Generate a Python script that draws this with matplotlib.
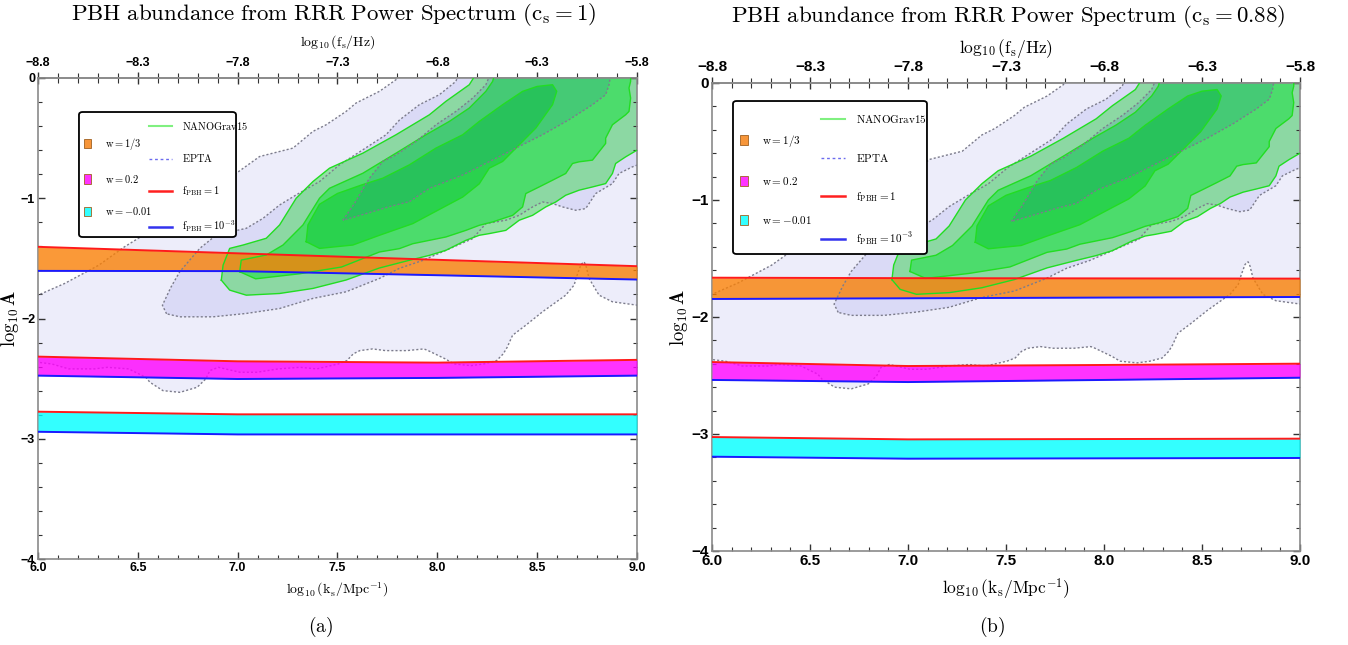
import numpy as np
import matplotlib
matplotlib.use('Agg')
import matplotlib.pyplot as plt
from matplotlib.patches import Patch, FancyBboxPatch
from matplotlib.lines import Line2D
from matplotlib.ticker import MultipleLocator

plt.rcParams['mathtext.fontset'] = 'cm'

# GW posteriors in (log10 k_s, log10 A); identical in both panels.
# points just outside the frame (x=9.05, y=0.05) close regions that leave the plot
# EPTA: outer, middle and inner credible regions
epta_1 = np.array([
    (5.95, -1.806), (6.0, -1.806), (6.133, -1.709), (6.304, -1.557), (6.433, -1.404),
    (6.519, -1.316), (6.6, -1.2), (6.8, -1.0), (6.993, -0.792), (7.11, -0.653),
    (7.277, -0.583), (7.377, -0.444), (7.443, -0.389), (7.543, -0.278), (7.593, -0.208),
    (7.71, -0.111), (7.793, -0.014), (7.81, 0.05), (9.05, 0.05), (9.05, -1.889),
    (9.0, -1.889), (8.877, -1.861), (8.81, -1.806), (8.76, -1.667), (8.745, -1.565),
    (8.735, -1.528), (8.72, -1.55), (8.70, -1.64), (8.685, -1.722), (8.643, -1.806),
    (8.527, -1.944), (8.443, -2.056), (8.377, -2.139), (8.35, -2.239), (8.33, -2.294),
    (8.297, -2.35), (8.233, -2.378), (8.169, -2.392), (8.083, -2.378), (8.04, -2.336),
    (7.954, -2.267), (7.933, -2.253), (7.847, -2.267), (7.74, -2.267), (7.676, -2.253),
    (7.612, -2.267), (7.579, -2.294), (7.547, -2.35), (7.504, -2.378), (7.397, -2.419),
    (7.311, -2.406), (7.204, -2.419), (7.097, -2.447), (7.011, -2.447), (6.904, -2.406),
    (6.861, -2.433), (6.84, -2.503), (6.797, -2.572), (6.711, -2.614), (6.626, -2.6),
    (6.561, -2.531), (6.54, -2.489), (6.454, -2.419), (6.347, -2.406), (6.283, -2.419),
    (6.154, -2.419), (6.069, -2.378), (6.0, -2.364), (5.95, -2.364)])
epta_2 = np.array([
    (6.644, -1.961), (6.623, -1.89), (6.666, -1.739), (6.71, -1.611), (6.81, -1.417),
    (6.893, -1.306), (7.043, -1.25), (7.127, -1.167), (7.21, -1.056), (7.293, -0.972),
    (7.41, -0.861), (7.51, -0.722), (7.627, -0.597), (7.743, -0.472), (7.81, -0.35),
    (7.91, -0.222), (8.01, -0.139), (8.093, -0.028), (8.11, 0.05), (9.05, 0.05),
    (9.05, -0.725), (9.0, -0.725), (8.977, -0.739), (8.91, -0.794), (8.877, -0.878),
    (8.793, -0.961), (8.743, -1.086), (8.693, -1.1), (8.627, -1.072), (8.577, -1.044),
    (8.527, -1.031), (8.477, -1.072), (8.41, -1.142), (8.343, -1.183), (8.243, -1.211),
    (8.177, -1.336), (8.043, -1.433), (7.927, -1.517), (7.81, -1.583), (7.71, -1.667),
    (7.543, -1.778), (7.377, -1.833), (7.21, -1.917), (7.043, -1.958), (6.877, -1.986),
    (6.71, -1.986)])
epta_3 = np.array([
    (7.527, -1.183), (7.585, -1.044), (7.66, -0.833), (7.727, -0.694), (7.793, -0.639),
    (7.893, -0.528), (7.993, -0.389), (8.093, -0.278), (8.177, -0.167), (8.243, -0.056),
    (8.27, 0.05), (8.87, 0.05), (8.86, -0.056), (8.843, -0.139), (8.777, -0.222),
    (8.66, -0.347), (8.527, -0.472), (8.393, -0.583), (8.277, -0.681), (8.127, -0.806),
    (7.96, -0.917), (7.86, -1.028), (7.76, -1.069), (7.677, -1.111)])

# NANOGrav15: outer, middle and inner credible regions
nano_1 = np.array([
    (6.918, -1.681), (6.927, -1.556), (6.96, -1.417), (7.027, -1.389), (7.143, -1.333),
    (7.21, -1.222), (7.293, -1.0), (7.377, -0.861), (7.46, -0.75), (7.627, -0.625),
    (7.793, -0.472), (7.96, -0.306), (8.043, -0.194), (8.16, -0.056), (8.2, 0.05),
    (9.05, 0.05), (9.05, -0.6), (9.0, -0.6), (8.943, -0.656), (8.893, -0.711),
    (8.877, -0.794), (8.843, -0.878), (8.777, -0.906), (8.71, -0.933), (8.643, -0.975),
    (8.593, -1.031), (8.543, -1.072), (8.477, -1.142), (8.41, -1.183), (8.343, -1.267),
    (8.26, -1.294), (8.21, -1.308), (8.143, -1.35), (8.043, -1.433), (7.96, -1.475),
    (7.85, -1.52), (7.71, -1.58), (7.543, -1.68), (7.377, -1.75), (7.21, -1.792),
    (7.043, -1.806), (6.96, -1.764)])
nano_2 = np.array([
    (7.01, -1.611), (7.018, -1.514), (7.143, -1.472), (7.227, -1.389), (7.327, -1.222),
    (7.41, -1.0), (7.46, -0.917), (7.627, -0.792), (7.793, -0.625), (7.943, -0.472),
    (8.06, -0.361), (8.16, -0.25), (8.243, -0.111), (8.277, -0.028), (8.29, 0.05),
    (8.968, 0.05), (8.968, -0.028), (8.96, -0.083), (8.968, -0.167), (8.96, -0.278),
    (8.943, -0.306), (8.877, -0.389), (8.843, -0.5), (8.843, -0.544), (8.777, -0.683),
    (8.71, -0.697), (8.677, -0.711), (8.643, -0.794), (8.577, -0.85), (8.51, -0.906),
    (8.443, -0.961), (8.427, -1.072), (8.377, -1.142), (8.277, -1.197), (8.21, -1.225),
    (8.143, -1.267), (8.043, -1.322), (7.96, -1.35), (7.877, -1.378), (7.81, -1.419),
    (7.71, -1.447), (7.52, -1.572), (7.31, -1.628), (7.09, -1.67)])
nano_3 = np.array([
    (7.343, -1.361), (7.352, -1.222), (7.41, -1.05), (7.50, -0.96), (7.62, -0.89),
    (7.727, -0.833), (7.86, -0.722), (7.993, -0.583), (8.127, -0.472), (8.21, -0.361),
    (8.327, -0.222), (8.427, -0.111), (8.5, -0.07), (8.577, -0.056), (8.598, -0.111),
    (8.577, -0.222), (8.493, -0.417), (8.41, -0.556), (8.327, -0.694), (8.26, -0.75),
    (8.21, -0.88), (8.127, -0.99), (8.043, -1.064), (7.877, -1.211), (7.71, -1.308),
    (7.577, -1.389), (7.41, -1.417)])

# PBH bands, log10 A for f_PBH = 1 (hi) and f_PBH = 1e-3 (lo)
band_k = [6.0, 7.0, 8.0, 9.0]
# (a) c_s = 1
a_w13_hi = [-1.404, -1.458, -1.512, -1.565]
a_w13_lo = [-1.604, -1.606, -1.640, -1.676]
a_w02_hi = [-2.317, -2.356, -2.367, -2.344]
a_w02_lo = [-2.475, -2.503, -2.494, -2.475]
a_wm_hi = [-2.775, -2.797, -2.797, -2.797]
a_wm_lo = [-2.942, -2.964, -2.964, -2.964]
# (b) c_s = 0.88
b_w13_hi = [-1.664, -1.668, -1.670, -1.672]
b_w13_lo = [-1.846, -1.840, -1.834, -1.829]
b_w02_hi = [-2.385, -2.419, -2.410, -2.399]
b_w02_lo = [-2.538, -2.556, -2.538, -2.519]
b_wm_hi = [-3.026, -3.046, -3.043, -3.040]
b_wm_lo = [-3.194, -3.211, -3.208, -3.205]

k_ticks = [6.0, 6.5, 7.0, 7.5, 8.0, 8.5, 9.0]
f_ticks = [-8.8, -8.3, -7.8, -7.3, -6.8, -6.3, -5.8]
a_ticks = [-4, -3, -2, -1, 0]
k_to_f = 14.8   # log10 f_s = log10 k_s - 14.8

band_colors = ['#f98006', '#ff00ff', '#00ffff']
band_labels = [r'$\mathrm{w} = 1/3$', r'$\mathrm{w} = 0.2$', r'$\mathrm{w} = -0.01$']
tickfont = ['Liberation Sans Narrow', 'Liberation Sans', 'DejaVu Sans']


def region(ax, pts, fc, alpha, ec, ls, z, lw=1.0):
    ax.fill(pts[:, 0], pts[:, 1], fc=fc, alpha=alpha, lw=0, zorder=z)
    xs = np.append(pts[:, 0], pts[0, 0])
    ys = np.append(pts[:, 1], pts[0, 1])
    ax.plot(xs, ys, color=ec, ls=ls, lw=lw, zorder=z + 2)


def minus(s):
    return s.replace('-', '\u2212')


def panel(ax, bands, fs_tick, fs_lab, pads, box, patch_anchor, line_anchor, fs_leg, lspace):
    dots = (0, (1.5, 1.5))
    region(ax, epta_1, '#ededfa', 1, '#7c7c8c', dots, 1)
    region(ax, epta_2, '#dadaf6', 1, '#7c7c8c', dots, 1.1)
    region(ax, nano_1, '#4cd860', 0.55, '#22dd22', '-', 1.2)
    region(ax, nano_2, '#4cdc6c', 1, '#22dd22', '-', 1.3)
    region(ax, nano_3, '#2ad24e', 1, '#22dd22', '-', 1.4)
    region(ax, epta_3, '#1d69ab', 0.15, '#7c7c8c', dots, 1.5)

    for (hi, lo), c in zip(bands, band_colors):
        ax.fill_between(band_k, lo, hi, color=c, alpha=0.8, lw=0, zorder=3)
        ax.plot(band_k, hi, color='#ff1a1a', lw=1.4, zorder=4.5)
        ax.plot(band_k, lo, color='#1a1aff', lw=1.4, zorder=4.5)

    ax.set_xlim(6, 9)
    ax.set_ylim(-4, 0)
    ax.set_xticks(k_ticks, labels=['%.1f' % v for v in k_ticks], fontsize=fs_tick,
                  fontweight='bold', family=tickfont)
    ax.set_yticks(a_ticks, labels=[minus('%d' % v) for v in a_ticks], fontsize=fs_tick,
                  fontweight='bold', family=tickfont)
    ax.xaxis.set_minor_locator(MultipleLocator(0.1))
    ax.yaxis.set_minor_locator(MultipleLocator(0.2))
    ax.tick_params(which='both', direction='in', top=False, right=True, color='#333333',
                   pad=2)
    ax.tick_params(which='major', length=5, width=1)
    ax.tick_params(which='minor', length=3, width=0.8)
    for sp in ax.spines.values():
        sp.set_color('#8a8a8a')
        sp.set_linewidth(1.2)
    ax.set_xlabel(r'$\log_{10}(\mathrm{k_s/Mpc^{-1}})$', fontsize=fs_lab, labelpad=pads[0])
    ax.set_ylabel(r'$\mathbf{\log_{10}A}$', fontsize=13.5, labelpad=pads[1])

    sec = ax.secondary_xaxis('top', functions=(lambda k: k - k_to_f, lambda f: f + k_to_f))
    sec.set_xticks(f_ticks, labels=[minus('%.1f' % v) for v in f_ticks], fontsize=fs_tick,
                   fontweight='bold', family=tickfont)
    sec.xaxis.set_minor_locator(MultipleLocator(0.1))
    sec.tick_params(which='major', direction='inout', length=9, width=1, color='#333333', pad=2)
    sec.tick_params(which='minor', direction='inout', length=7, width=0.8, color='#333333')
    sec.spines['top'].set_color('#8a8a8a')
    sec.spines['top'].set_linewidth(1.2)
    sec.set_xlabel(r'$\log_{10}(\mathrm{f_s/Hz})$', fontsize=fs_lab, labelpad=pads[2])

    # legend: framed box holding two offset columns
    ax.add_patch(FancyBboxPatch(box[:2], box[2], box[3], transform=ax.transAxes,
                                boxstyle='round,pad=0,rounding_size=0.006',
                                fc='white', ec='black', lw=1.3, zorder=6))
    patches = [Patch(fc=c, ec='#a06020', lw=0.6, label=l)
               for c, l in zip(['#f7963a', '#ff33ff', '#33ffff'], band_labels)]
    lines = [Line2D([], [], color='#80f080', lw=1.5, label=r'$\mathrm{NANOGrav15}$'),
             Line2D([], [], color='#6b6bef', lw=1, ls=(0, (2, 2)), label=r'$\mathrm{EPTA}$'),
             Line2D([], [], color='#ff2020', lw=1.8, label=r'$\mathrm{f_{PBH}} = 1$'),
             Line2D([], [], color='#3333ee', lw=1.8, label=r'$\mathrm{f_{PBH}} = 10^{-3}$')]
    leg1 = ax.legend(handles=patches, loc='upper left', bbox_to_anchor=patch_anchor,
                     frameon=False, fontsize=fs_leg, labelspacing=lspace, borderpad=0,
                     borderaxespad=0, handlelength=0.7, handleheight=1.0, handletextpad=1.3)
    leg1.set_zorder(7)
    ax.add_artist(leg1)
    leg2 = ax.legend(handles=lines, loc='upper left', bbox_to_anchor=line_anchor,
                     frameon=False, fontsize=fs_leg, labelspacing=lspace, borderpad=0,
                     borderaxespad=0, handlelength=2.2, handletextpad=1.0)
    leg2.set_zorder(7)


fig = plt.figure(figsize=(13.48, 6.45), dpi=100)
ax_a = fig.add_axes([0.02819, 0.13333, 0.44436, 0.74574])
ax_b = fig.add_axes([0.52819, 0.14574, 0.43620, 0.72558])

panel(ax_a, [(a_w13_hi, a_w13_lo), (a_w02_hi, a_w02_lo), (a_wm_hi, a_wm_lo)],
      9, 10, (5, 0, 8), (0.0684, 0.6694, 0.2622, 0.2599), (0.0768, 0.879), (0.185, 0.9127),
      7.5, 1.95)
panel(ax_b, [(b_w13_hi, b_w13_lo), (b_w02_hi, b_w02_lo), (b_wm_hi, b_wm_lo)],
      11, 12.5, (6, 1, 5), (0.0357, 0.6346, 0.3299, 0.3269), (0.048, 0.894), (0.185, 0.936),
      8, 2.4)

fig.text(0.2478, 0.977, r'$\mathrm{PBH\ abundance\ from\ RRR\ Power\ Spectrum}\ (\mathrm{c_s} = 1)$',
         fontsize=16.5, ha='center', va='center')
fig.text(0.748, 0.974, r'$\mathrm{PBH\ abundance\ from\ RRR\ Power\ Spectrum}\ (\mathrm{c_s} = 0.88)$',
         fontsize=16.5, ha='center', va='center')
fig.text(0.2374, 0.028, r'$\mathrm{(a)}$', fontsize=14, ha='center', va='center')
fig.text(0.736, 0.028, r'$\mathrm{(b)}$', fontsize=14, ha='center', va='center')

fig.savefig('out.png', dpi=100)
